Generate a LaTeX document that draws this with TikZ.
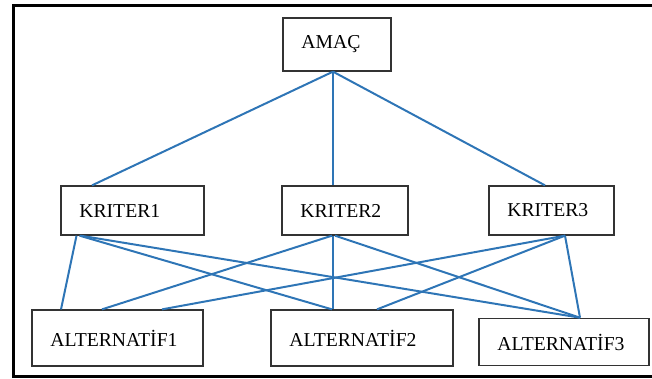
\documentclass[tikz,border=0pt]{standalone}
\usepackage{fontspec}
\setmainfont{Liberation Serif}
\usetikzlibrary{calc}
\definecolor{linkblue}{RGB}{46,117,182}
\tikzset{
  kutu/.style={draw=black!80, line width=1.1pt, inner xsep=0.55cm, inner ysep=0pt, align=left, font=\fontsize{16.8}{20}\selectfont},
  bag/.style={linkblue, line width=1.7pt}
}
\begin{document}
\begin{tikzpicture}[x=0.03cm,y=-0.03cm]
\useasboundingbox(0,0)rectangle(652,378);
\draw[line width=2.4pt](13.5,5.5)rectangle(680,376.5);
% amac
\node[kutu, text width = 2.14cm, minimum height = 1.59cm](amac)at(337,44.5){AMAÇ};
% kriterler
\node[kutu, text width = 3.19cm, minimum height = 1.47cm](k1)at(132.5,210.5){KRITER1};
\node[kutu, text width = 2.68cm, minimum height = 1.47cm](k2)at(345,210.5){KRITER2};
\node[kutu, text width = 2.65cm, minimum height = 1.47cm](k3)at(551.5,210.5){KRITER3};
% alternatifler
\node[kutu, text width = 4.03cm, minimum height = 1.68cm](a1)at(117.5,338){ALTERNATİF1};
\node[kutu, text width = 4.36cm, minimum height = 1.68cm](a2)at(362,338){ALTERNATİF2};
\node[kutu, text width = 4.00cm, minimum height = 1.42cm](a3)at(564,342){ALTERNATİF3};
% amac - kriter
\draw[bag]($(amac.south)+(-4,0)$)--($(k1.north)+(-40.5,0)$);
\draw[bag]($(amac.south)+(-4,0)$)--($(k2.north)+(-12,0)$);
\draw[bag]($(amac.south)+(-4,0)$)--($(k3.north)+(-6.5,0)$);
% kriter - alternatif
\draw[bag]($(k1.south)+(-56,0)$)--($(a1.north)+(-56.5,0)$);
\draw[bag]($(k1.south)+(-53,0)$)--($(a2.north)+(-30,0)$);
\draw[bag]($(k1.south)+(-52,0)$)--($(a3.north)+(16,0)$);
\draw[bag]($(k2.south)+(-13,0)$)--($(a1.north)+(-15.5,0)$);
\draw[bag]($(k2.south)+(-12,0)$)--($(a2.north)+(-29,0)$);
\draw[bag]($(k2.south)+(-10,0)$)--($(a3.north)+(16,0)$);
\draw[bag]($(k3.south)+(13.5,0)$)--($(a1.north)+(44.5,0)$);
\draw[bag]($(k3.south)+(13.5,0)$)--($(a2.north)+(15,0)$);
\draw[bag]($(k3.south)+(13.5,0)$)--($(a3.north)+(16,0)$);
\end{tikzpicture}
\end{document}
